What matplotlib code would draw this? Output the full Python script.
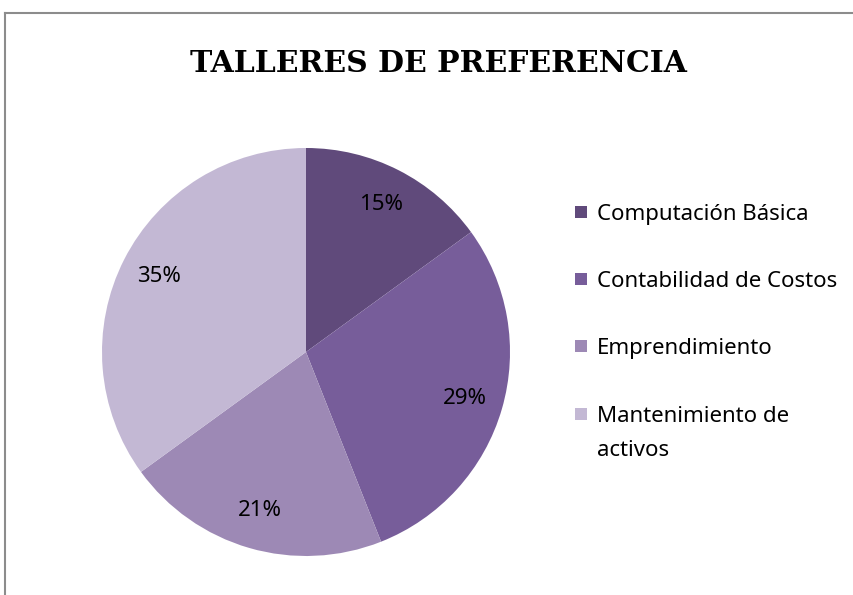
import matplotlib
matplotlib.use("Agg")
import matplotlib.pyplot as plt
from matplotlib.lines import Line2D
from matplotlib.patches import Rectangle
from matplotlib.font_manager import FontProperties

categories = ["Computación Básica", "Contabilidad de Costos", "Emprendimiento", "Mantenimiento de\nactivos"]
values = [15, 29, 21, 35]
colors = ["#604A7B", "#775D9A", "#9D89B5", "#C3B8D4"]
title = "TALLERES DE PREFERENCIA"

W, H = 854, 595
fig = plt.figure(figsize=(W / 100, H / 100), dpi=100)
FS = 16
fp = FontProperties(family="Noto Sans", size=FS)

# border (left and top lines)
fig.add_artist(Line2D([5 / W, 5 / W], [0, 1 - 13 / H], transform=fig.transFigure, color="#8C8C8C", lw=1.5))
fig.add_artist(Line2D([5 / W, 1], [1 - 13 / H, 1 - 13 / H], transform=fig.transFigure, color="#8C8C8C", lw=1.5))

fig.text(438 / W, 1 - 63 / H, title, ha="center", va="center", fontsize=21.5,
         fontweight="bold", family="DejaVu Serif")

cx, cy, r = 306, 352, 204
ax = fig.add_axes([(cx - r) / W, (H - cy - r) / H, 2 * r / W, 2 * r / H])
wedges, _, autotexts = ax.pie(values, colors=colors, startangle=90, counterclock=False,
                              autopct="%1.0f%%", pctdistance=0.81,
                              wedgeprops=dict(linewidth=0))
for t in autotexts:
    t.set_fontproperties(fp)
    t.set_color("black")
ax.set_xlim(-1, 1)
ax.set_ylim(-1, 1)
ax.set_aspect("auto")
ax.axis("off")

# legend drawn manually (entries aligned to first text line, as in the reference)
cap = 0.714 * FS * 100 / 72
entry_y = [212, 279, 346, 414]
line_gap = 34
msz = 12
for cat, col, yc in zip(categories, colors, entry_y):
    fig.add_artist(Rectangle((575 / W, (H - yc - msz / 2) / H), msz / W, msz / H,
                             transform=fig.transFigure, facecolor=col, edgecolor="none"))
    for i, line in enumerate(cat.split("\n")):
        yb = yc + cap / 2 + i * line_gap
        fig.text(597 / W, 1 - yb / H, line, ha="left", va="baseline",
                 fontproperties=fp, color="black")

fig.savefig("out.png", dpi=100)
